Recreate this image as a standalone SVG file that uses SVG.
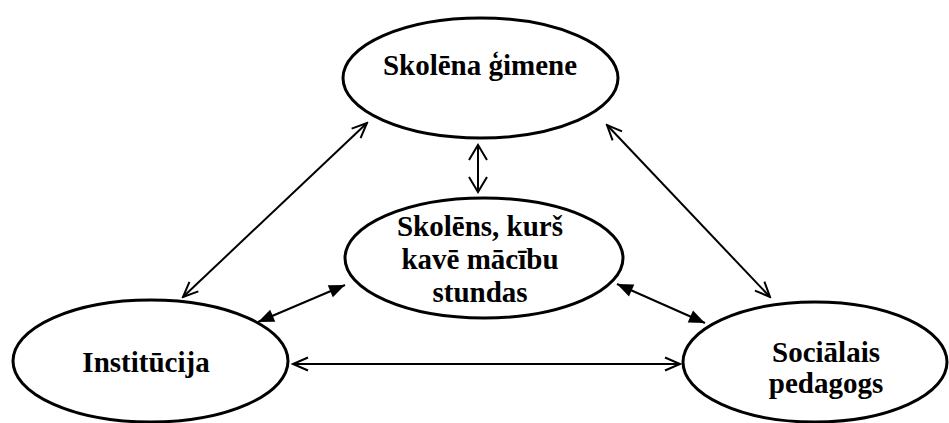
<svg xmlns="http://www.w3.org/2000/svg" width="949" height="423" viewBox="0 0 949 423">
<defs>
<style>
.node ellipse{fill:#fff;stroke:#000;stroke-width:3}
.node text{font-family:"Liberation Serif","Times New Roman",serif;font-weight:bold;font-size:29px;fill:#000;text-anchor:middle}
.conn line{stroke:#000;stroke-width:2}
.open{marker-start:url(#openA);marker-end:url(#openA)}
.openw{marker-start:url(#openW);marker-end:url(#openW)}
.fill{marker-start:url(#fillA);marker-end:url(#fillA)}
</style>
<marker id="openA" markerUnits="userSpaceOnUse" viewBox="-18 -10 20 20" refX="0" refY="0" markerWidth="20" markerHeight="20" orient="auto-start-reverse">
<path d="M-15,-6.5 L0,0 L-15,6.5" fill="none" stroke="#000" stroke-width="2"/>
</marker>
<marker id="openW" markerUnits="userSpaceOnUse" viewBox="-18 -12 20 24" refX="0" refY="0" markerWidth="20" markerHeight="24" orient="auto-start-reverse">
<path d="M-15,-9 L0,0 L-15,9" fill="none" stroke="#000" stroke-width="2"/>
</marker>
<marker id="fillA" markerUnits="userSpaceOnUse" viewBox="-18 -10 20 20" refX="0" refY="0" markerWidth="20" markerHeight="20" orient="auto-start-reverse">
<path d="M-16,-6.5 L0,0 L-16,6.5 Z" fill="#000"/>
</marker>
</defs>
<rect width="949" height="423" fill="#fff"/>
<g id="connectors" class="conn">
<line class="open" x1="183" y1="297" x2="367" y2="123"/>
<line class="open" x1="607" y1="125" x2="770" y2="297"/>
<line class="openw" x1="478" y1="145" x2="478" y2="192"/>
<line class="fill" x1="258" y1="322" x2="345" y2="285"/>
<line class="fill" x1="617" y1="284" x2="705" y2="323"/>
<line class="open" x1="293" y1="364" x2="680" y2="364"/>
</g>
<g id="skolena-gimene" class="node">
<ellipse cx="480.5" cy="78" rx="137.5" ry="60"/>
<text x="480" y="75">Skolēna ģimene</text>
</g>
<g id="skolens" class="node">
<ellipse cx="484" cy="258" rx="139" ry="60"/>
<text x="480" y="236">Skolēns, kurš</text>
<text x="480" y="269">kavē mācību</text>
<text x="480" y="302">stundas</text>
</g>
<g id="institucija" class="node">
<ellipse cx="150.5" cy="361" rx="137.5" ry="61"/>
<text x="146" y="372">Institūcija</text>
</g>
<g id="socialais-pedagogs" class="node">
<ellipse cx="815" cy="362" rx="132" ry="60"/>
<text x="826" y="362">Sociālais</text>
<text x="826" y="393">pedagogs</text>
</g>
</svg>
